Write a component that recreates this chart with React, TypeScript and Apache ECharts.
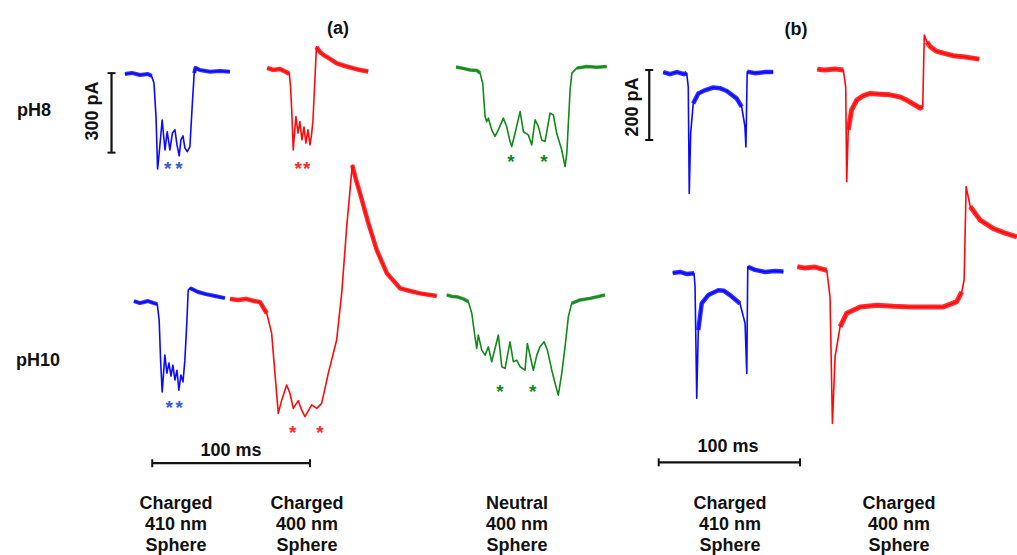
import React, { useEffect, useRef } from "react";
import * as echarts from "echarts";

// ---- Data: time (ms) from trace start, current (pA) relative to open-pore baseline ----
const A_PH8_410 = [[0,0],[4.4,3.8],[9.5,-3.8],[14.6,0],[16.9,-7.5],[18.4,-34],[19.7,-162],[20.7,-359],[21.9,-287],[23.6,-174],[25.4,-287],[26.8,-218],[28.5,-287],[30.1,-223],[31.7,-211],[33.0,-268],[34.4,-309],[35.5,-249],[36.8,-234],[38.0,-279],[39.5,-293],[41.2,-274],[42.5,-136],[43.9,3],[44.7,23],[47.5,15],[53.9,8],[60.2,11],[66.6,8]];
const A_PH8_400 = [[0,7.5],[3.6,0],[8.1,3.8],[11.9,-7.5],[14.0,-15],[14.8,-63],[15.7,-176],[16.5,-302],[17.2,-245],[18.2,-176],[19.5,-238],[20.7,-195],[22.0,-264],[23.3,-215],[24.5,-276],[25.8,-226],[27.1,-283],[28.1,-245],[29.0,-189],[30.2,-38],[31.2,87],[33.4,68],[35.6,57],[39.8,42],[44.1,25],[49.3,15],[54.7,6],[58.8,0],[64.0,-6]];
const A_PH8_NEUTRAL = [[0,7.5],[4.4,2],[8.9,-4],[13.3,-6],[15.2,-16],[16.9,-54],[18.4,-180],[19.4,-199],[20.5,-186],[22.6,-230],[24.7,-255],[26.8,-230],[30.0,-186],[32.1,-218],[34.2,-274],[35.3,-293],[37.4,-243],[40.6,-161],[42.7,-237],[45.8,-249],[48.0,-287],[50.1,-192],[52.2,-218],[54.3,-268],[56.4,-274],[59.6,-167],[61.7,-174],[63.8,-243],[67.0,-306],[69.1,-369],[70.2,-318],[72.3,-79],[73.4,-16],[76.5,3],[82.9,9],[89.2,6],[95.5,9]];
const A_PH10_410 = [[0,4],[3.8,-4],[8.9,4],[12.7,-4],[14.8,-8],[16.0,-68],[16.9,-219],[17.9,-339],[18.7,-275],[19.6,-200],[20.9,-268],[22.2,-230],[23.5,-279],[24.7,-238],[26.0,-294],[27.3,-257],[28.5,-332],[29.8,-275],[31.1,-301],[32.3,-219],[33.6,-68],[34.4,45],[35.5,53],[40.6,38],[45.6,30],[51.3,23],[57.7,15]];
const A_PH10_400 = [[0,4],[5.1,0],[10.1,4],[15.2,-4],[19.0,-8],[23.3,-50],[26.4,-126],[28.5,-277],[30.6,-428],[32.8,-377],[35.9,-321],[38.0,-352],[40.1,-409],[43.3,-380],[45.4,-415],[47.5,-440],[51.8,-396],[55.0,-409],[58.1,-390],[62.3,-277],[67.6,-151],[70.8,25],[74.0,277],[77.5,509],[79.9,453],[82.4,403],[87.7,290],[93.0,189],[99.4,101],[107.8,44],[114.1,34],[120.4,25],[131.0,15]];
const A_PH10_NEUTRAL = [[0,8],[3.4,2],[7.2,0],[11.0,-8],[13.7,-18],[15.9,-62],[17.9,-150],[19.0,-194],[20.0,-143],[22.2,-200],[24.3,-219],[26.4,-188],[28.5,-244],[30.6,-194],[32.7,-143],[34.9,-263],[37.0,-269],[40.1,-169],[42.2,-244],[44.4,-238],[46.5,-263],[49.6,-276],[51.1,-175],[53.2,-231],[54.9,-276],[57.1,-219],[59.1,-188],[61.7,-169],[63.8,-200],[66.6,-276],[68.7,-326],[70.7,-370],[72.9,-288],[75.0,-188],[77.1,-74],[79.2,-24],[84.5,-11],[90.8,-5],[100.3,8]];
const B_PH8_410 = [[0,3],[4.7,-3],[9.7,3],[14.6,-3],[16.6,0],[17.7,-39],[18.4,-344],[19.4,-172],[21.2,-87],[24.8,-58],[29.5,-49],[35.4,-41],[40.1,-43],[44.9,-51],[51.9,-72],[55.5,-96],[57.8,-153],[58.5,-211],[59.4,4],[64.9,0],[72.0,3],[77.8,3]];
const B_PH8_400 = [[0,2],[5.4,0],[12.5,3],[18.4,0],[20.1,-48],[20.8,-319],[21.9,-171],[24.3,-114],[27.9,-86],[32.3,-74],[37.3,-67],[44.4,-69],[51.4,-71],[58.5,-77],[63.2,-86],[69.1,-100],[72.7,-109],[74.6,-105],[75.7,100],[77.6,80],[79.8,67],[84.0,54],[89.2,48],[96.0,41],[103.3,38],[114.6,31]];
const B_PH10_410 = [[0,0],[5.2,3],[10.1,-3],[15.1,-1],[15.8,-39],[17.0,-358],[18.1,-163],[20.5,-87],[25.2,-63],[32.3,-49],[36.3,-51],[40.5,-63],[47.6,-87],[51.2,-144],[52.4,-287],[53.1,18],[58.2,9],[65.3,3],[72.4,6],[78.3,4]];
const B_PH10_400 = [[0,4],[5.4,0],[12.5,3],[17.5,-3],[20.8,-6],[23.1,-82],[24.8,-444],[26.7,-253],[30.2,-168],[34.9,-129],[44.4,-111],[56.2,-106],[67.7,-109],[79.7,-111],[91.8,-111],[103.3,-111],[112.8,-96],[116.3,-68],[118.0,-34],[119.4,233],[122.3,176],[129.3,137],[138.7,113],[147.0,100],[155.3,89]];

// Scale bars (ms, pA)
const SCALE_A_CURRENT = 300;
const SCALE_B_CURRENT = 200;
const SCALE_TIME = 100;

// Text
const PANEL_LABELS = ["(a)", "(b)"];
const ROW_LABELS = ["pH8", "pH10"];
const COLUMN_LABELS = [
  "Charged\n410 nm\nSphere",
  "Charged\n400 nm\nSphere",
  "Neutral\n400 nm\nSphere",
  "Charged\n410 nm\nSphere",
  "Charged\n400 nm\nSphere",
];

// ---- Layout / style ----
const BLUE = "#0a0aff";
const RED = "#ff0a0a";
const GREEN = "#12891a";
const FONT = '"Liberation Sans", Arial, sans-serif';

// noisy: index ranges of each trace drawn as a thicker noise band
const TRACES = [
  { data: A_PH8_410, grid: 0, t0: 79.2, i0: 1521, color: BLUE, band: 4, noisy: [[0, 4], [23, 28]] },
  { data: A_PH8_400, grid: 0, t0: 169.4, i0: 1536, color: RED, band: 4.5, noisy: [[0, 4], [20, 28]] },
  { data: A_PH8_NEUTRAL, grid: 0, t0: 289.1, i0: 1540, color: GREEN, band: 3.5, noisy: [[0, 4], [33, 36]] },
  { data: A_PH10_410, grid: 0, t0: 84.9, i0: 660, color: BLUE, band: 4, noisy: [[0, 4], [22, 26]] },
  { data: A_PH10_400, grid: 0, t0: 145.8, i0: 668, color: RED, band: 4.5, noisy: [[0, 5], [23, 32]] },
  { data: A_PH10_NEUTRAL, grid: 0, t0: 283.2, i0: 679, color: GREEN, band: 3.5, noisy: [[0, 4], [35, 38]] },
  { data: B_PH8_410, grid: 1, t0: 49.7, i0: 1191, color: BLUE, band: 4.5, noisy: [[0, 4], [8, 15], [18, 21]] },
  { data: B_PH8_400, grid: 1, t0: 158.7, i0: 1200, color: RED, band: 5, noisy: [[0, 3], [6, 17], [19, 25]] },
  { data: B_PH10_410, grid: 1, t0: 56.4, i0: 620, color: BLUE, band: 4.5, noisy: [[0, 3], [6, 12], [15, 19]] },
  { data: B_PH10_400, grid: 1, t0: 144.6, i0: 634, color: RED, band: 5, noisy: [[0, 4], [8, 17], [20, 24]] },
];

const ASTERISKS = [
  { x: 167.7, y: 164, c: "#3a5bd6" }, { x: 179, y: 164, c: "#3a5bd6" },
  { x: 298.3, y: 164, c: "#ff2a2a" }, { x: 306.7, y: 164, c: "#ff2a2a" },
  { x: 511, y: 157, c: GREEN }, { x: 544, y: 157, c: GREEN },
  { x: 169.3, y: 403, c: "#3a5bd6" }, { x: 179.3, y: 403, c: "#3a5bd6" },
  { x: 292.7, y: 428, c: "#ff2a2a" }, { x: 320, y: 428, c: "#ff2a2a" },
  { x: 500, y: 387, c: GREEN }, { x: 532.7, y: 387, c: GREEN },
];

const COLUMN_X = [176, 307, 517, 730, 899];

function scaleBar(grid: number, pts: number[][], horizontal: boolean) {
  return {
    type: "line",
    xAxisIndex: grid,
    yAxisIndex: grid,
    data: pts,
    showSymbol: true,
    symbol: "rect",
    symbolSize: horizontal ? [2, 8] : [8, 2],
    itemStyle: { color: "#111" },
    lineStyle: { color: "#111", width: 2.2 },
    silent: true,
    clip: false,
    z: 5,
  };
}

export default function App() {
  const ref = useRef<HTMLDivElement>(null);
  useEffect(() => {
    if (!ref.current) return;
    const chart = echarts.init(ref.current, undefined, { renderer: "svg" });

    const series: any[] = [];
    TRACES.forEach((tr) => {
      const pts = tr.data.map(([t, i]) => [t + tr.t0, i + tr.i0]);
      tr.noisy.forEach(([a, b]) => {
        series.push({
          type: "line",
          xAxisIndex: tr.grid,
          yAxisIndex: tr.grid,
          data: pts.slice(a, b + 1),
          showSymbol: false,
          lineStyle: { color: tr.color, width: tr.band, opacity: 0.85, join: "round", cap: "butt" },
          silent: true,
          clip: false,
          z: 2,
        });
      });
      series.push({
        type: "line",
        xAxisIndex: tr.grid,
        yAxisIndex: tr.grid,
        data: pts,
        showSymbol: false,
        lineStyle: { color: tr.color, width: 1.6, join: "round" },
        silent: true,
        clip: false,
        z: 3,
      });
    });

    // Panel (a) scale bars
    const aBarT = 70.7, aBarI = 1224;
    series.push(scaleBar(0, [[aBarT, aBarI], [aBarT, aBarI + SCALE_A_CURRENT]], false));
    series.push(scaleBar(0, [[96.5, 52], [96.5 + SCALE_TIME, 52]], true));
    // Panel (b) scale bars
    const bBarT = 39.8, bBarI = 1000;
    series.push(scaleBar(1, [[bBarT, bBarI], [bBarT, bBarI + SCALE_B_CURRENT]], false));
    series.push(scaleBar(1, [[46.5, 79], [46.5 + SCALE_TIME, 79]], true));

    const boldText = (text: string, x: number, y: number, extra: any = {}) => ({
      type: "text",
      x,
      y,
      silent: true,
      ...extra,
      style: {
        text,
        fill: "#111",
        fontSize: 18,
        fontWeight: "bold",
        fontFamily: FONT,
        align: "center",
        verticalAlign: "middle",
        ...(extra.style || {}),
      },
    });

    const graphic: any[] = [
      boldText(PANEL_LABELS[0], 338, 28),
      boldText(PANEL_LABELS[1], 796, 29),
      boldText(ROW_LABELS[0], 17, 110, { style: { align: "left" } }),
      boldText(ROW_LABELS[1], 16, 360, { style: { align: "left" } }),
      boldText(`${SCALE_A_CURRENT} pA`, 92, 111, { rotation: Math.PI / 2 }),
      boldText(`${SCALE_B_CURRENT} pA`, 632, 107, { rotation: Math.PI / 2 }),
      boldText(`${SCALE_TIME} ms`, 231, 450),
      boldText(`${SCALE_TIME} ms`, 728, 446),
      ...COLUMN_LABELS.map((t, k) =>
        boldText(t, COLUMN_X[k], 492, { style: { verticalAlign: "top", lineHeight: 21 } })
      ),
      ...ASTERISKS.map((a) => ({
        type: "text",
        x: a.x,
        y: a.y + 4,
        silent: true,
        style: {
          text: "*",
          fill: a.c,
          fontSize: 19,
          fontWeight: "bold",
          fontFamily: FONT,
          align: "center",
          verticalAlign: "middle",
        },
      })),
    ];

    chart.setOption({
      animation: false,
      backgroundColor: "#ffffff",
      grid: [
        { left: 0, top: 0, width: 631, height: 477 },
        { left: 593, top: 0, width: 424, height: 490 },
      ],
      xAxis: [
        { type: "value", gridIndex: 0, min: 0, max: 400, show: false },
        { type: "value", gridIndex: 1, min: 0, max: 300, show: false },
      ],
      yAxis: [
        { type: "value", gridIndex: 0, min: 0, max: 1800, show: false },
        { type: "value", gridIndex: 1, min: 0, max: 1400, show: false },
      ],
      series,
      graphic,
    });
    return () => chart.dispose();
  }, []);

  return (
    <div
      ref={ref}
      style={{ position: "absolute", left: 0, top: 0, width: 1017, height: 555 }}
    />
  );
}
